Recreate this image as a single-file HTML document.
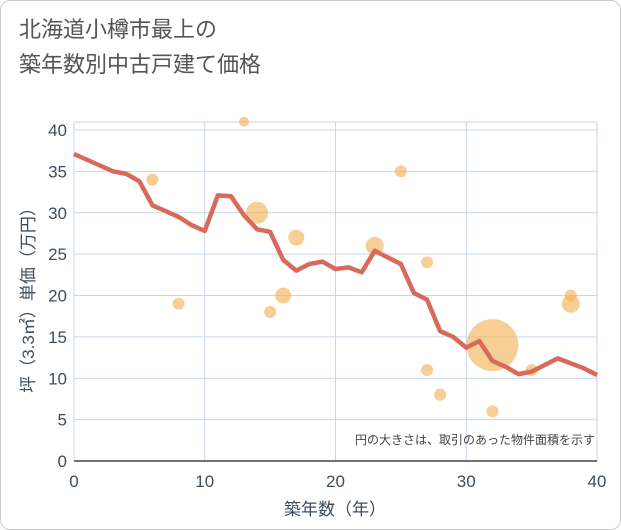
<!DOCTYPE html>
<html><head><meta charset="utf-8"><style>
body{margin:0;background:#fff;font-family:"Liberation Sans","Noto Sans CJK JP",sans-serif}
#wrap{position:relative;width:621px;height:530px;box-sizing:border-box;border:1px solid #ccc;border-radius:10px;overflow:hidden;background:#fff}
h1{position:absolute;left:18px;top:11px;margin:0;font-weight:normal;font-size:22px;line-height:35px;color:#555}
</style></head><body>
<div id="wrap">
<h1>北海道小樽市最上の<br>築年数別中古戸建て価格</h1>
<svg id="c" width="621" height="530" style="position:absolute;left:0;top:0"></svg>
</div>
<script>
const lineYears=[0,3,4,5,6,7,8,9,10,11,12,13,14,15,16,17,18,19,20,21,22,23,24,25,26,27,28,29,30,31,32,33,34,35,36,37,38,39,40];
const linePrices=[37.1,35,34.7,33.8,30.9,30.2,29.5,28.5,27.8,32.1,32,29.7,28,27.7,24.3,23,23.8,24.1,23.2,23.4,22.8,25.4,24.6,23.8,20.3,19.5,15.7,15,13.7,14.5,12.1,11.4,10.5,10.8,11.6,12.4,11.8,11.2,10.4];
const bubbleYears=[6,8,13,14,15,16,17,23,25,27,27,28,32,32,35,38,38];
const bubblePrices=[34,19,41,30,18,20,27,26,35,24,11,8,14,6,11,20,19];
const bubbleSizes=[6,6,5,11,6,8,8,9,6,6,6,6,26,6,6,6,9];
const xTicks=[0,10,20,30,40];
const yTicks=[0,5,10,15,20,25,30,35,40];
const NS="http://www.w3.org/2000/svg";
const svg=document.getElementById('c');
const TC='#3e4d5e';
const X=v=>73+v*(596-73)/40, Y=v=>460-v*(460-129)/40;
function mk(t,a,p){const e=document.createElementNS(NS,t);for(const k in a)e.setAttribute(k,a[k]);(p||svg).appendChild(e);return e;}
const bg=mk('rect',{x:73,y:121,width:523,height:339,fill:'#fff'});


xTicks.forEach(t=>{const l=mk('line',{x1:X(t),x2:X(t),y1:121,y2:460,stroke:'#c8d6e5'});


const tx=mk('text',{x:X(t),y:486,'text-anchor':'middle','font-size':17,fill:TC});tx.textContent=t;

});
yTicks.forEach(t=>{const l=mk('line',{x1:73,x2:596,y1:Y(t),y2:Y(t),stroke:'#c8d6e5'});


const tx=mk('text',{x:66,y:Y(t)+6,'text-anchor':'end','font-size':17,fill:TC});tx.textContent=t;

});
const fr=mk('rect',{x:73,y:121,width:523,height:339,fill:'none',stroke:'#c8d6e5'});


const ax=mk('line',{x1:73,x2:596,y1:460,y2:460,stroke:'#444','stroke-width':1.5});


bubbleYears.forEach((v,i)=>{const c=mk('circle',{cx:X(v),cy:Y(bubblePrices[i]),r:bubbleSizes[i],fill:'rgba(242,180,90,0.65)'});

});
const pl=mk('polyline',{points:lineYears.map((v,i)=>X(v)+','+Y(linePrices[i])).join(' '),fill:'none',stroke:'#d9695a','stroke-width':4.5,'stroke-linejoin':'round'});


const note=mk('text',{x:594,y:443,'text-anchor':'end','font-size':12,fill:'#444'});note.textContent='円の大きさは、取引のあった物件面積を示す';


const xt=mk('text',{x:334,y:514,'text-anchor':'middle','font-size':17,fill:TC});xt.textContent='築年数（年）';


const yt=mk('text',{x:0,y:0,'text-anchor':'middle','font-size':17,fill:TC,transform:'translate(33,295) rotate(-90)'});yt.textContent='坪（3.3㎡）単価（万円）';


</script>
</body></html>
